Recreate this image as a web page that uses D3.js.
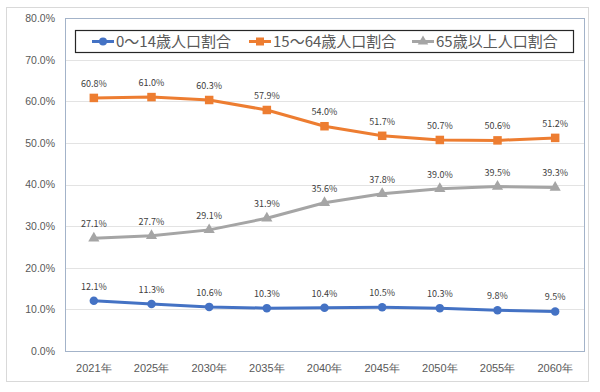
<!DOCTYPE html>
<html>
<head>
<meta charset="utf-8">
<script src="https://cdn.jsdelivr.net/npm/d3@7"></script>
<style>
  body { margin: 0; background: #fff; }
  svg { display: block; font-family: "Noto Sans CJK JP", "Noto Sans", sans-serif; }
</style>
</head>
<body>
<svg id="chart"></svg>
<script>
const years = ["2021年", "2025年", "2030年", "2035年", "2040年", "2045年", "2050年", "2055年", "2060年"];
const young = [12.1, 11.3, 10.6, 10.3, 10.4, 10.5, 10.3, 9.8, 9.5];
const working = [60.8, 61.0, 60.3, 57.9, 54.0, 51.7, 50.7, 50.6, 51.2];
const elderly = [27.1, 27.7, 29.1, 31.9, 35.6, 37.8, 39.0, 39.5, 39.3];
const yTicks = [0, 10, 20, 30, 40, 50, 60, 70, 80];

const series = [
  { name: "0～14歳人口割合", values: young, color: "#4472c4", marker: "circle" },
  { name: "15～64歳人口割合", values: working, color: "#ed7d31", marker: "square" },
  { name: "65歳以上人口割合", values: elderly, color: "#a5a5a5", marker: "triangle" }
];

const W = 600, H = 392;
const margin = { top: 18, right: 16, bottom: 41, left: 65 };
const width = W - margin.left - margin.right;
const height = H - margin.top - margin.bottom;

const svg = d3.select("#chart").attr("width", W).attr("height", H);

// outer chart border
svg.append("rect")
  .attr("x", 6.5).attr("y", 7.5)
  .attr("width", 582).attr("height", 374)
  .attr("fill", "#fff")
  .attr("stroke", "#d9d9d9");

const g = svg.append("g")
  .attr("transform", "translate(" + margin.left + "," + margin.top + ")");

const x = d3.scaleBand().domain(years).range([0, width]);
const y = d3.scaleLinear().domain([0, 80]).range([height, 0]);
const cx = d => x(d) + x.bandwidth() / 2;

// gridlines
g.append("g")
  .selectAll("line")
  .data(yTicks)
  .join("line")
  .attr("x1", 0).attr("x2", width)
  .attr("y1", d => Math.round(y(d)) + 0.5)
  .attr("y2", d => Math.round(y(d)) + 0.5)
  .attr("stroke", "#e3e3e3");

// plot area border
g.append("rect")
  .attr("x", 0.5).attr("y", 0.5)
  .attr("width", width).attr("height", height)
  .attr("fill", "none")
  .attr("stroke", "#a3b3c9");

// y axis
const yAxis = g.append("g")
  .call(d3.axisLeft(y).tickValues(yTicks).tickSize(0).tickPadding(10).tickFormat(d => d.toFixed(1) + "%"));
yAxis.select(".domain").remove();
yAxis.selectAll("text")
  .attr("fill", "#595959")
  .style("font-size", "10.5px");

// x axis
const xAxis = g.append("g")
  .attr("transform", "translate(0," + height + ")")
  .call(d3.axisBottom(x).tickSize(0).tickPadding(13));
xAxis.select(".domain").remove();
xAxis.selectAll("text")
  .attr("fill", "#595959")
  .style("font-size", "11px");

function drawMarker(sel, type, color, size) {
  if (type === "circle") {
    sel.append("circle").attr("r", size * 0.5).attr("fill", color);
  } else if (type === "square") {
    sel.append("rect")
      .attr("x", -size / 2).attr("y", -size / 2)
      .attr("width", size).attr("height", size)
      .attr("fill", color);
  } else {
    sel.append("path")
      .attr("d", d3.symbol(d3.symbolTriangle, size * size * 0.75)())
      .attr("fill", color);
  }
}

const line = d3.line()
  .x((d, i) => cx(years[i]))
  .y(d => y(d));

series.forEach(s => {
  g.append("path")
    .datum(s.values)
    .attr("d", line)
    .attr("fill", "none")
    .attr("stroke", s.color)
    .attr("stroke-width", 3)
    .attr("stroke-linejoin", "round");

  g.append("g")
    .selectAll("g")
    .data(s.values)
    .join("g")
    .attr("transform", (d, i) => "translate(" + cx(years[i]) + "," + y(d) + ")")
    .each(function () { drawMarker(d3.select(this), s.marker, s.color, 8.5); });

  g.append("g")
    .selectAll("text")
    .data(s.values)
    .join("text")
    .attr("x", (d, i) => cx(years[i]))
    .attr("y", d => y(d) - 11)
    .attr("text-anchor", "middle")
    .attr("fill", "#404040")
    .style("font-size", "9px")
    .text(d => d.toFixed(1) + "%");
});

// legend
const legend = svg.append("g");
legend.append("rect")
  .attr("x", 75.5).attr("y", 30.5)
  .attr("width", 498).attr("height", 22)
  .attr("fill", "#fff")
  .attr("stroke", "#262626")
  .attr("stroke-width", 1.2);

const legendX = [92, 249, 412];
series.forEach((s, i) => {
  const item = legend.append("g").attr("transform", "translate(" + legendX[i] + ",41.5)");
  item.append("line")
    .attr("x1", 0).attr("x2", 22)
    .attr("stroke", s.color)
    .attr("stroke-width", 3);
  const m = item.append("g").attr("transform", "translate(11,0)");
  drawMarker(m, s.marker, s.color, 8);
  item.append("text")
    .attr("x", 24)
    .attr("y", 5.5)
    .attr("fill", "#595959")
    .style("font-size", "15px")
    .text(s.name);
});
</script>
</body>
</html>
